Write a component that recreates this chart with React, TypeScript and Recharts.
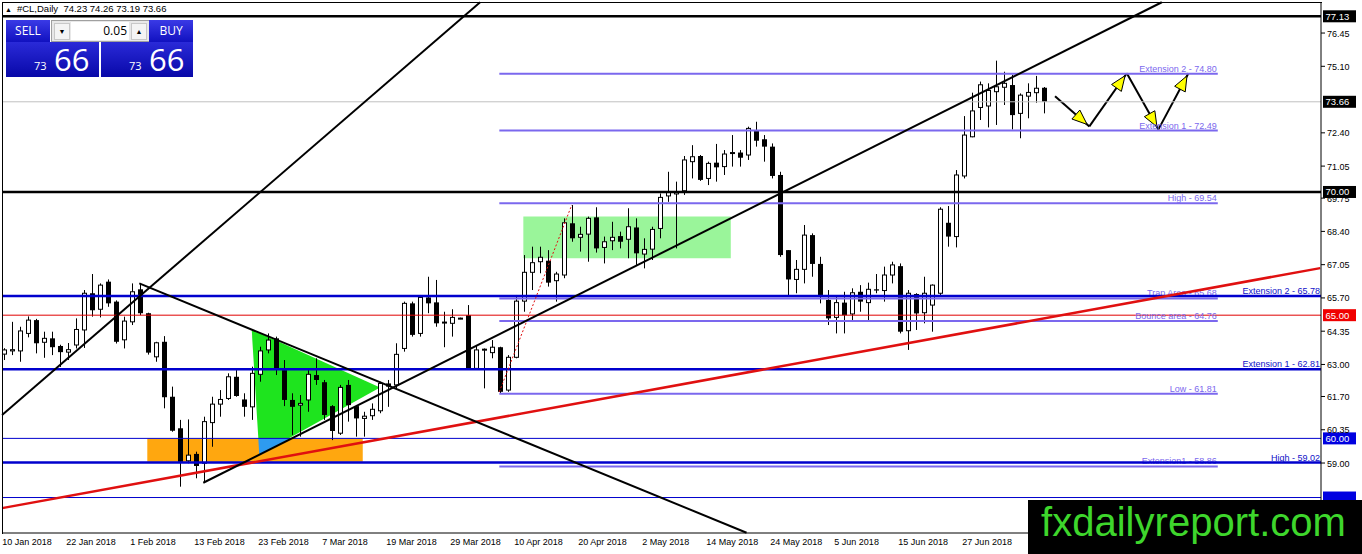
import React from "react";
import { ComposedChart, Bar, XAxis, YAxis, ReferenceLine, ReferenceArea } from "recharts";

const FONT = "'Liberation Sans', Arial, sans-serif";

// daily candles, 10 Jan 2018 .. 11 Jul 2018 (bar index = position on the time axis)
const OPEN = [63.42, 63.55, 63.55, 64.26, 64.8, 63.9, 64.06, 63.75, 63.5, 63.79,
  64.4, 65.89, 65.24, 66.36, 65.55, 64.0, 64.73, 66.05, 65.08, 63.31,
  63.92, 61.69, 60.41, 59.09, 59.37, 58.99, 60.64, 61.39, 61.62, 62.5,
  61.58, 61.28, 62.6, 63.59, 64.06, 62.77, 61.56, 61.35, 61.56, 62.57,
  62.28, 61.31, 60.21, 62.17, 61.31, 60.81, 60.92, 61.12, 62.23, 62.17,
  63.65, 65.48, 64.26, 65.72, 65.52, 64.7, 64.67, 64.86, 65.0, 62.84,
  63.59, 63.48, 63.7, 61.96, 63.29, 65.57, 66.74, 67.17, 67.21, 66.4,
  66.63, 68.73, 68.16, 68.29, 68.97, 67.75, 68.02, 68.21, 68.08, 68.56,
  67.48, 67.68, 68.52, 69.84, 69.92, 70.05, 71.23, 71.46, 70.55, 71.19,
  71.03, 71.58, 71.6, 71.5, 72.51, 72.14, 71.84, 70.69, 67.64, 66.45,
  66.86, 68.25, 67.08, 65.62, 64.91, 65.51, 65.05, 65.95, 65.51, 66.05,
  66.0, 66.63, 66.99, 64.37, 65.86, 65.1, 65.41, 65.89, 68.75, 68.19,
  70.65, 72.24, 73.43, 73.49, 74.07, 74.25, 74.34, 73.19, 73.89, 74.03,
  74.23];
const HIGH = [63.66, 64.73, 64.53, 64.95, 64.85, 64.33, 64.33, 63.8, 63.87, 64.87,
  66.02, 66.67, 66.29, 66.45, 65.6, 64.94, 66.29, 66.29, 65.1, 63.92,
  64.15, 62.1, 60.75, 60.77, 59.46, 60.88, 61.69, 61.96, 62.64, 62.77,
  61.83, 62.91, 63.72, 64.26, 64.13, 63.18, 61.83, 61.76, 62.77, 63.25,
  62.37, 61.35, 62.17, 62.37, 61.35, 61.08, 61.42, 62.3, 62.37, 63.86,
  65.55, 65.55, 65.82, 66.56, 66.43, 65.14, 65.24, 64.9, 65.41, 63.79,
  63.65, 63.99, 63.72, 63.38, 65.82, 67.44, 67.78, 67.78, 67.64, 66.76,
  68.93, 69.47, 68.59, 69.0, 69.38, 68.19, 68.79, 68.39, 69.34, 68.93,
  68.12, 68.59, 69.94, 70.82, 70.42, 71.46, 71.9, 71.5, 71.23, 71.95,
  71.7, 72.31, 71.7, 72.65, 72.85, 72.31, 71.97, 70.82, 67.64, 67.24,
  68.66, 68.32, 67.37, 66.02, 65.75, 65.95, 66.09, 66.22, 66.32, 66.67,
  66.97, 67.17, 67.1, 66.02, 65.89, 66.56, 66.25, 69.38, 69.43, 70.89,
  73.08, 74.03, 74.48, 74.41, 75.33, 74.88, 74.75, 74.0, 74.41, 74.71,
  74.26];
const LOW = [63.18, 63.38, 63.11, 64.1, 63.45, 63.27, 63.38, 62.9, 63.18, 63.65,
  63.67, 64.94, 64.91, 65.34, 63.85, 63.65, 64.6, 65.0, 63.4, 63.11,
  61.22, 60.27, 58.04, 58.99, 58.38, 58.2, 59.66, 60.88, 61.56, 61.69,
  60.88, 60.75, 62.3, 63.45, 62.57, 61.31, 60.14, 60.07, 61.08, 62.17,
  60.75, 59.93, 60.14, 60.68, 60.07, 60.07, 60.75, 61.02, 61.28, 62.03,
  63.52, 64.13, 64.13, 65.08, 64.53, 63.7, 64.13, 64.84, 62.84, 62.84,
  62.03, 63.25, 61.83, 61.89, 63.25, 65.14, 66.02, 66.7, 66.16, 65.55,
  66.5, 67.98, 67.58, 67.17, 67.54, 67.1, 67.64, 67.71, 67.31, 67.04,
  66.9, 67.24, 68.12, 69.6, 67.71, 69.88, 70.55, 70.45, 70.28, 70.42,
  70.69, 71.03, 71.03, 71.3, 71.84, 71.23, 70.55, 67.37, 65.8, 65.89,
  66.29, 66.56, 65.48, 64.6, 64.26, 64.26, 64.8, 65.14, 64.8, 65.89,
  65.55, 66.29, 64.26, 63.59, 64.4, 64.67, 64.33, 65.82, 67.78, 67.75,
  70.55, 72.22, 72.92, 72.62, 72.72, 73.53, 72.54, 72.18, 72.99, 73.62,
  73.19];
const CLOSE = [63.59, 63.6, 64.36, 64.8, 63.86, 64.06, 63.7, 63.5, 63.6, 64.42,
  65.89, 65.2, 66.22, 65.48, 63.92, 64.76, 65.95, 65.08, 63.48, 63.88,
  61.67, 60.31, 59.05, 59.32, 58.88, 60.68, 61.39, 61.58, 62.5, 61.72,
  61.28, 62.64, 63.55, 63.99, 62.84, 61.56, 61.28, 61.42, 62.6, 62.37,
  60.95, 60.3, 62.07, 61.35, 60.81, 60.9, 61.18, 62.23, 62.1, 63.41,
  65.48, 64.2, 65.72, 65.48, 64.67, 64.72, 64.91, 64.88, 62.84, 63.59,
  63.62, 63.7, 61.89, 63.29, 65.57, 66.74, 67.13, 67.35, 66.32, 66.67,
  68.75, 68.12, 68.28, 68.93, 67.71, 67.98, 68.16, 67.98, 68.59, 67.51,
  67.67, 68.48, 69.78, 70.01, 70.0, 71.3, 71.43, 70.49, 71.16, 71.0,
  71.54, 71.6, 71.39, 72.58, 72.08, 71.84, 70.65, 67.44, 66.45, 66.86,
  68.25, 67.08, 65.82, 64.87, 65.51, 65.0, 65.91, 65.55, 66.05, 66.0,
  66.63, 67.04, 64.33, 65.89, 65.07, 65.89, 66.22, 69.3, 68.19, 70.69,
  72.31, 73.29, 74.35, 74.12, 74.27, 74.41, 73.12, 73.93, 74.04, 74.21,
  73.66];

const TICK_BARS = [0, 8, 16, 24, 32, 40, 48, 56, 64, 72, 80, 88, 96, 104, 112, 120];
const TICK_LABELS = ["10 Jan 2018", "22 Jan 2018", "1 Feb 2018", "13 Feb 2018", "23 Feb 2018",
  "7 Mar 2018", "19 Mar 2018", "29 Mar 2018", "10 Apr 2018", "20 Apr 2018", "2 May 2018",
  "14 May 2018", "24 May 2018", "5 Jun 2018", "15 Jun 2018", "27 Jun 2018"];
const PRICE_TICKS = [59.0, 60.35, 61.7, 63.0, 64.35, 65.7, 67.05, 68.4, 69.75,
  71.05, 72.4, 75.1, 76.45];

const X_DOMAIN = [-0.16, 164.7];
const Y_DOMAIN = [56.16, 77.71];

// fibo expansion levels (purple, bars 62..152)
const FIBO_LEVELS = [74.8, 72.49, 69.54, 65.68, 64.76, 61.81, 58.86];
const FIBO_TEXT = ["Extension 2 - 74.80", "Extension 1 - 72.49", "High - 69.54",
  "Trap Area - 65.68", "Bounce area - 64.76", "Low - 61.81", "Extension1 - 58.86"];
const FIBO_FROM = 62;
const FIBO_TO = 151.8;

// full width blue levels
const BLUE_LEVELS = [65.78, 62.81, 59.02];
const BLUE_TEXT = ["Extension 2 - 65.78", "Extension 1 - 62.81", "High - 59.02"];

// trend lines: [bar, price] -> [bar, price]
const STEEP_LINE = [[-0.15, 60.95], [59.6, 77.7]];
const UP_LINE = [[25, 58.2], [144.8, 77.7]];
const DOWN_LINE = [[17, 66.29], [92.9, 56.17]];
const RED_LINE = [[-0.15, 57.17], [164.6, 66.91]];
const DOT_LINE = [[62, 61.89], [71.05, 69.47]];

const TRIANGLE = [[31.05, 64.42], [32.0, 59.34], [47.09, 62.06]];
const OVERLAP = [[31.875, 60.0], [36.1, 60.0], [32.0, 59.34]];
const ORANGE_BOX = { x1: 18, x2: 44.93, y1: 59.05, y2: 60.0 };
const GREEN_BOX = { x1: 65, x2: 90.93, y1: 67.31, y2: 69.0 };
const ARROW_PATH = [[131.46, 73.89], [135.75, 72.66], [140.43, 74.82], [144.38, 72.54], [148.13, 74.82]];

const DATA = OPEN.map((o, i) => ({ i, o, h: HIGH[i], l: LOW[i], c: CLOSE[i] }));

const Candle = (props: any) => {
  const { x, y, width, height, payload } = props;
  const { o, h, l, c } = payload;
  const top = Math.min(y, y + height);
  const hgt = Math.abs(height);
  const cx = Math.round(x + width / 2) + 0.5;
  const unit = h > l ? hgt / (h - l) : 0;
  const yo = top + (h - o) * unit;
  const yc = top + (h - c) * unit;
  const bTop = Math.min(yo, yc);
  const bH = Math.max(Math.abs(yo - yc), 1);
  return (
    <g>
      <line x1={cx} x2={cx} y1={top} y2={top + hgt} stroke="#000" strokeWidth={1} />
      {c >= o ? (
        <rect x={cx - 2} y={bTop} width={4} height={bH} fill="#fff" stroke="#000" strokeWidth={1} />
      ) : (
        <rect x={cx - 2.5} y={bTop} width={5} height={bH} fill="#000" />
      )}
    </g>
  );
};

const bounds = (pts: number[][]) => {
  const xs = pts.map((p) => p[0]);
  const ys = pts.map((p) => p[1]);
  return { x0: Math.min(...xs), x1: Math.max(...xs), y0: Math.min(...ys), y1: Math.max(...ys) };
};

const toPixels = (pts: number[][], props: any) => {
  const { x, y, width, height } = props;
  const b = bounds(pts);
  return pts.map(([px, py]) => [
    x + ((px - b.x0) / (b.x1 - b.x0)) * width,
    y + ((b.y1 - py) / (b.y1 - b.y0)) * height,
  ]);
};

const polyShape = (pts: number[][], fill: string) => (props: any) => (
  <polygon points={toPixels(pts, props).map((p) => p.join(",")).join(" ")} fill={fill} />
);

const arrowShape = (props: any) => {
  const pts = toPixels(ARROW_PATH, props);
  const parts: any[] = [];
  for (let k = 1; k < pts.length; k++) {
    const [ax, ay] = pts[k - 1];
    const [bx, by] = pts[k];
    parts.push(<line key={"l" + k} x1={ax} y1={ay} x2={bx} y2={by} stroke="#000" strokeWidth={2} />);
  }
  for (let k = 1; k < pts.length; k++) {
    const [ax, ay] = pts[k - 1];
    const [bx0, by0] = pts[k];
    const len = Math.hypot(bx0 - ax, by0 - ay);
    const ux = (bx0 - ax) / len;
    const uy = (by0 - ay) / len;
    const bx = bx0 - ux * 3;
    const by = by0 - uy * 3;
    const L = 15;
    const W = 6;
    const sx = bx - ux * L;
    const sy = by - uy * L;
    parts.push(
      <polygon key={"h" + k}
        points={`${bx},${by} ${sx - uy * W},${sy + ux * W} ${sx + uy * W},${sy - ux * W}`}
        fill="#FFFF00" stroke="#000" strokeWidth={1} />
    );
  }
  return <g>{parts}</g>;
};

const DateTick = (props: any) => {
  const { x, y, payload } = props;
  const idx = TICK_BARS.indexOf(payload.value);
  return (
    <text x={x - 1} y={y + 4} fontSize={9} fontFamily={FONT} fill="#000" textAnchor="start">
      {TICK_LABELS[idx]}
    </text>
  );
};

const PriceTick = (props: any) => {
  const { x, y, payload } = props;
  return (
    <text x={x} y={y + 3.5} fontSize={9} fontFamily={FONT} fill="#000" textAnchor="start">
      {payload.value.toFixed(2)}
    </text>
  );
};

const priceBox = (text: string, bg: string) => (p: any) => {
  const vb = p.viewBox;
  const bx = vb.x + vb.width + 2;
  return (
    <g>
      <rect x={bx} y={vb.y - 6} width={33} height={12} fill={bg} />
      {text ? (
        <text x={bx + 2.5} y={vb.y + 3.5} fontSize={9.5} fontFamily={FONT} fill="#fff">{text}</text>
      ) : null}
    </g>
  );
};

const levelText = (text: string, color: string) => (p: any) => {
  const vb = p.viewBox;
  return (
    <text x={vb.x + vb.width - 1} y={vb.y - 2} fontSize={9} fontFamily={FONT} fill={color} textAnchor="end">
      {text}
    </text>
  );
};

const seg = (pts: number[][]) => pts.map(([x, y]) => ({ x, y }));

export default function App() {
  const triB = bounds(TRIANGLE);
  const ovB = bounds(OVERLAP);
  const arB = bounds(ARROW_PATH);
  return (
    <div style={{ position: "relative", width: 1362, height: 554, background: "#fff", overflow: "hidden", fontFamily: FONT }}>
      <style>{"body{margin:0}"}</style>
      <ComposedChart width={1362} height={554} data={DATA} margin={{ top: 2, right: 0, bottom: 0, left: 2 }}>
        <XAxis type="number" dataKey="i" domain={X_DOMAIN} allowDataOverflow ticks={TICK_BARS} interval={0}
          tick={<DateTick />} tickLine={false} axisLine={{ stroke: "#000" }} height={21} />
        <YAxis orientation="right" type="number" domain={Y_DOMAIN} allowDataOverflow ticks={PRICE_TICKS} interval={0}
          tick={<PriceTick />} tickSize={4} tickLine={{ stroke: "#000" }} axisLine={{ stroke: "#000" }} width={41} />

        <ReferenceArea x1={triB.x0} x2={triB.x1} y1={triB.y0} y2={triB.y1} ifOverflow="visible"
          shape={polyShape(TRIANGLE, "#1EE41E")} />
        <ReferenceArea {...ORANGE_BOX} ifOverflow="visible" fill="#FFA70F" fillOpacity={1} stroke="none" />
        <ReferenceArea x1={ovB.x0} x2={ovB.x1} y1={ovB.y0} y2={ovB.y1} ifOverflow="visible"
          shape={polyShape(OVERLAP, "#2E9BF0")} />
        <ReferenceArea {...GREEN_BOX} ifOverflow="visible" fill="#9AF59A" fillOpacity={1} stroke="none" />

        <Bar dataKey={(d: any) => [d.l, d.h]} barSize={5} shape={Candle} isAnimationActive={false} />

        <ReferenceLine y={73.66} stroke="#C0C0C0" strokeWidth={1} label={priceBox("73.66", "#000")} />
        <ReferenceLine y={65.0} stroke="#E00000" strokeWidth={1} label={priceBox("65.00", "#F00000")} />
        <ReferenceLine y={60.0} stroke="#0000CD" strokeWidth={1} label={priceBox("60.00", "#0000E0")} />
        {/* its price box sits under the watermark; only the top edge shows */}
        <ReferenceLine y={57.6} stroke="#0000CD" strokeWidth={1} label={priceBox("", "#0000E0")} />

        {FIBO_LEVELS.map((p, k) => (
          <ReferenceLine key={"f" + k} segment={seg([[FIBO_FROM, p], [FIBO_TO, p]])} ifOverflow="visible"
            stroke="#7B68EE" strokeWidth={2} label={levelText(FIBO_TEXT[k], "#7B68EE")} />
        ))}
        {BLUE_LEVELS.map((p, k) => (
          <ReferenceLine key={"b" + k} y={p} stroke="#0000CD" strokeWidth={2.5}
            label={levelText(BLUE_TEXT[k], "#1010C8")} />
        ))}

        <ReferenceLine y={77.13} stroke="#000" strokeWidth={2.5} label={priceBox("77.13", "#000")} />
        <ReferenceLine y={70.0} stroke="#000" strokeWidth={2.5} label={priceBox("70.00", "#000")} />

        <ReferenceLine segment={seg(RED_LINE)} ifOverflow="visible" stroke="#E01010" strokeWidth={2.5} />
        <ReferenceLine segment={seg(DOT_LINE)} ifOverflow="visible" stroke="#E01010" strokeWidth={1} strokeDasharray="2 2" />
        <ReferenceLine segment={seg(STEEP_LINE)} ifOverflow="visible" stroke="#000" strokeWidth={2} />
        <ReferenceLine segment={seg(UP_LINE)} ifOverflow="visible" stroke="#000" strokeWidth={2} />
        <ReferenceLine segment={seg(DOWN_LINE)} ifOverflow="visible" stroke="#000" strokeWidth={2} />

        <ReferenceArea x1={arB.x0} x2={arB.x1} y1={arB.y0} y2={arB.y1} ifOverflow="visible" shape={arrowShape} />
      </ComposedChart>

      {/* chart frame, left and top edges */}
      <div style={{ position: "absolute", left: 2, top: 2, width: 1319, height: 531, borderLeft: "1px solid #000", borderTop: "1px solid #000", pointerEvents: "none" }} />

      {/* title */}
      <div style={{ position: "absolute", left: 5, top: 3, fontSize: 9.5, color: "#000", whiteSpace: "pre", lineHeight: "11px" }}>
        <span style={{ fontSize: 7, marginRight: 5 }}>▲</span>#CL,Daily  74.23 74.26 73.19 73.66
      </div>

      {/* one click trading panel */}
      <div style={{ position: "absolute", left: 6, top: 20, width: 187, height: 57, fontFamily: "'Open Sans', 'Noto Sans', sans-serif" }}>
        <div style={{ position: "absolute", left: 0, top: 0, width: 44, height: 22, background: "linear-gradient(#3a3ae6, #1111c0)", color: "#fff", fontSize: 12, textAlign: "center", lineHeight: "21px", borderBottom: "1px solid #8c8cf0" }}>SELL</div>
        <div style={{ position: "absolute", left: 45, top: 0, width: 97, height: 20, background: "#e8e8e8", border: "1px solid #a0a0a0" }}>
          <div style={{ position: "absolute", left: 2, top: 2, width: 14, height: 15, background: "#f4f4f4", border: "1px solid #c8c8c8", fontSize: 7, textAlign: "center", lineHeight: "15px" }}>▼</div>
          <div style={{ position: "absolute", left: 19, top: 1, width: 58, height: 18, background: "#fff", fontSize: 12, textAlign: "right", lineHeight: "18px", paddingRight: 2, boxSizing: "border-box" }}>0.05</div>
          <div style={{ position: "absolute", left: 79, top: 2, width: 14, height: 15, background: "#f4f4f4", border: "1px solid #c8c8c8", fontSize: 7, textAlign: "center", lineHeight: "15px" }}>▲</div>
        </div>
        <div style={{ position: "absolute", left: 143, top: 0, width: 44, height: 22, background: "linear-gradient(#3a3ae6, #1111c0)", color: "#fff", fontSize: 12, textAlign: "center", lineHeight: "21px", borderBottom: "1px solid #8c8cf0" }}>BUY</div>
        <div style={{ position: "absolute", left: 0, top: 22, width: 93, height: 35, background: "linear-gradient(#2a2ad8, #0808a8)", color: "#fff" }}>
          <span style={{ position: "absolute", left: 28, top: 16, fontSize: 11 }}>73</span>
          <span style={{ position: "absolute", left: 48, top: -4, fontSize: 31 }}>66</span>
        </div>
        <div style={{ position: "absolute", left: 95, top: 22, width: 92, height: 35, background: "linear-gradient(#2a2ad8, #0808a8)", color: "#fff" }}>
          <span style={{ position: "absolute", left: 28, top: 16, fontSize: 11 }}>73</span>
          <span style={{ position: "absolute", left: 48, top: -4, fontSize: 31 }}>66</span>
        </div>
      </div>

      {/* watermark */}
      <svg style={{ position: "absolute", left: 1028, top: 500 }} width={334} height={54}>
        <rect x={0} y={0} width={334} height={54} fill="#000" />
        <text x={13} y={36} fontSize={40} fontFamily={FONT} fill="#3ED62C" textLength={305} lengthAdjust="spacingAndGlyphs">
          fxdailyreport.com
        </text>
      </svg>
    </div>
  );
}
